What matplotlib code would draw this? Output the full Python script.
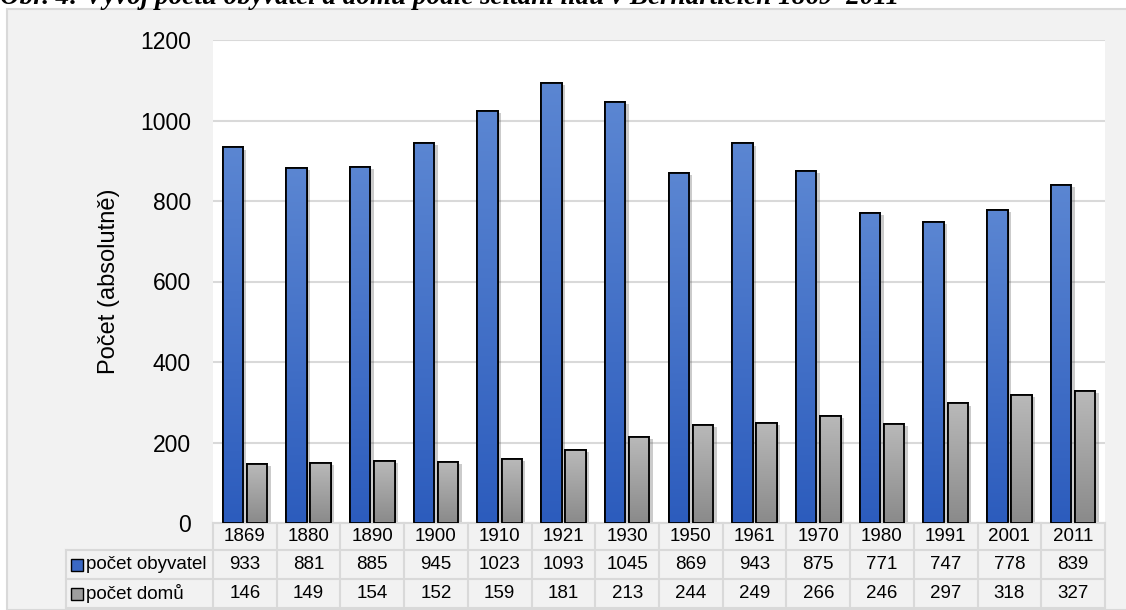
import matplotlib.pyplot as plt
import matplotlib.patheffects as pe
from matplotlib.patches import Rectangle
import matplotlib.transforms as mtransforms
import numpy as np

plt.rcParams['font.family'] = ['Liberation Sans', 'DejaVu Sans']

roky = ['1869', '1880', '1890', '1900', '1910', '1921', '1930', '1950', '1961',
        '1970', '1980', '1991', '2001', '2011']
obyvatel = [933, 881, 885, 945, 1023, 1093, 1045, 869, 943, 875, 771, 747, 778, 839]
domy = [146, 149, 154, 152, 159, 181, 213, 244, 249, 266, 246, 297, 318, 327]
serie = ['počet obyvatel', 'počet domů']

W, H = 1126, 610
fig = plt.figure(figsize=(W / 100, H / 100), dpi=100)
fig.patch.set_facecolor('white')

# sedy ramecek grafu
frame = Rectangle((7 / W, 0), 1.2, 1 - 9 / H, transform=fig.transFigure,
                  facecolor='#f2f2f2', edgecolor='#d9d9d9', lw=1.5, zorder=-10)
fig.patches.append(frame)

# titulek (oriznuty nahore)
fig.text(0.0, 1 - 4 / H,
         'Obr. 4: Vývoj počtu obyvatel a domů podle sčítání lidu v Bernarticích 1869–2011',
         family='Liberation Serif', fontweight='bold', fontstyle='italic',
         fontsize=19.5, va='baseline', ha='left')

ax = fig.add_axes([213 / W, 1 - 523 / H, (1105 - 213) / W, (523 - 40) / H])
ax.set_facecolor('white')

x = np.arange(len(roky))
bw = 0.32
off = 0.19

def gradient_bars(xs, vals, top, bottom):
    bars = ax.bar(xs, vals, bw, color=bottom, edgecolor='black', lw=1.3, zorder=2,
                  path_effects=[pe.SimplePatchShadow(offset=(2.5, -1.5), alpha=0.3,
                                                     shadow_rgbFace='#555555'),
                                pe.Normal()])
    cmap = plt.matplotlib.colors.LinearSegmentedColormap.from_list('g', [bottom, top])
    grad = np.linspace(0, 1, 256).reshape(-1, 1)
    for b in bars:
        x0 = b.get_x()
        im = ax.imshow(grad, extent=(x0, x0 + b.get_width(), 0, b.get_height()),
                       origin='lower', aspect='auto', cmap=cmap, zorder=2.5)
        im.set_clip_path(b)
    ax.bar(xs, vals, bw, fill=False, edgecolor='black', lw=1.3, zorder=3)

gradient_bars(x - off, obyvatel, '#5b86d2', '#2c5cbd')
gradient_bars(x + off, domy, '#b9b9b9', '#8a8a8a')

ax.set_xlim(-0.5, len(roky) - 0.5)
ax.set_ylim(0, 1200)
ax.set_yticks(range(0, 1201, 200))
ax.tick_params(axis='y', length=0, pad=16, labelsize=16.5)
ax.tick_params(axis='x', length=0, labelbottom=False)
ax.yaxis.grid(True, color='#d9d9d9', lw=1.5)
ax.set_axisbelow(True)
for s in ax.spines.values():
    s.set_visible(False)
ax.set_ylabel('Počet (absolutně)', fontsize=17, labelpad=14)

# tabulka pod grafem
tr = mtransforms.blended_transform_factory(ax.transData, ax.transAxes)
ah = 523 - 40
rows = [0, -27 / ah, -56 / ah, -85 / ah]
left = -0.5 - (213 - 66) / ((1105 - 213) / len(roky))
lc = '#d9d9d9'
# horizontalni cary
ax.plot([-0.5, len(roky) - 0.5], [rows[0], rows[0]], transform=tr, color=lc, lw=1.5, clip_on=False)
for r in rows[1:]:
    ax.plot([left, len(roky) - 0.5], [r, r], transform=tr, color=lc, lw=1.5, clip_on=False)
# vertikalni cary
ax.plot([left, left], [rows[1], rows[3]], transform=tr, color=lc, lw=1.5, clip_on=False)
for i in range(len(roky) + 1):
    ax.plot([i - 0.5, i - 0.5], [rows[0], rows[3]], transform=tr, color=lc, lw=1.5, clip_on=False)

fs = 13.5
for i, rok in enumerate(roky):
    ax.text(i, (rows[0] + rows[1]) / 2, rok, transform=tr, ha='center', va='center', fontsize=fs)
    ax.text(i, (rows[1] + rows[2]) / 2, str(obyvatel[i]), transform=tr, ha='center', va='center', fontsize=fs)
    ax.text(i, (rows[2] + rows[3]) / 2, str(domy[i]), transform=tr, ha='center', va='center', fontsize=fs)

barvy = ['#3a68c4', '#9e9e9e']
for k, name in enumerate(serie):
    yc = (rows[k + 1] + rows[k + 2]) / 2
    ax.plot([left + 0.18], [yc], marker='s', ms=8.5, mfc=barvy[k], mec='black', mew=1.0,
            transform=tr, clip_on=False)
    ax.text(left + 0.32, yc, name, transform=tr, ha='left', va='center', fontsize=fs)

fig.savefig('out.png', dpi=100)
